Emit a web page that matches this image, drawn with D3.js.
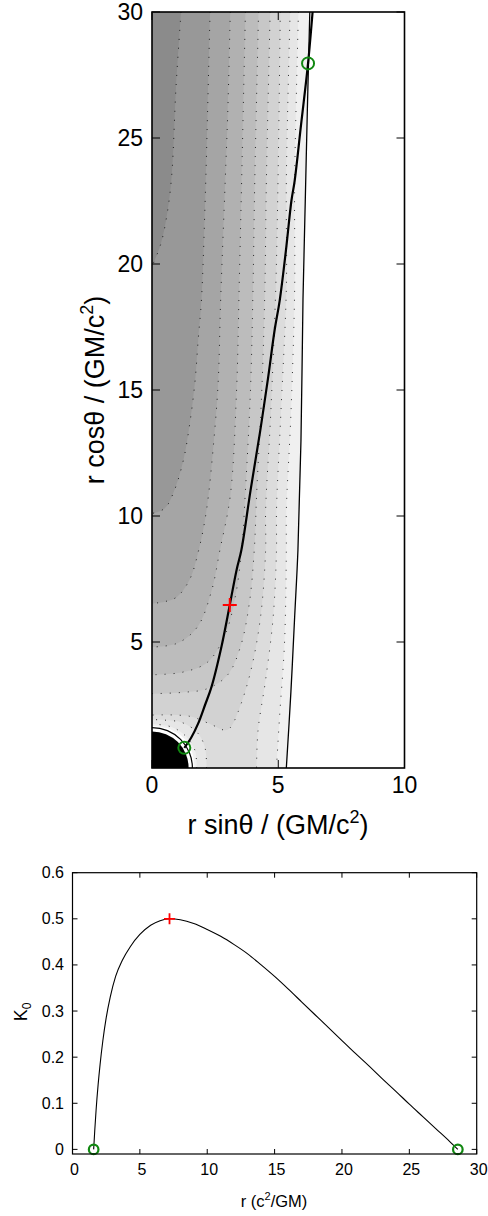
<!DOCTYPE html>
<html><head><meta charset="utf-8">
<script src="https://cdn.jsdelivr.net/npm/d3@7"></script>
<style>
body{margin:0;background:#fff}
svg{display:block}
text{font-family:"Liberation Sans",Arial,Helvetica,sans-serif;fill:#000}
</style>
</head><body>
<svg id="chart" width="488" height="1216"></svg>
<script>
// ---------------- DATA ----------------
// grey level of each band, darkest (upper left) to lightest
const bandColors = ["#8b8b8b","#989898","#a5a5a5","#b1b1b1","#bcbcbc","#c7c7c7","#d2d2d2","#dcdcdc","#e6e6e6","#f0f0f0","#ffffff"];
// contour lines, each a list of pieces [x, z] (lighter side on the left of travel)
const contour1 = [[[1.15,30],[0.95,27],[0.78,23.5],[0.6,22],[0.35,20.8],[0,19.9]]];
const contour2 = [[[2.3,30],[2.2,26],[2.12,23],[1.96,18.6],[1.83,17],[1.7,15.3],[1.5,13.7],[1.24,12.2],[0.84,10.9],[0.5,10.3],[0,10.1]]];
const contour3 = [[[3.1,30],[3.0,26],[2.9,23.3],[2.72,18.6],[2.62,15.3],[2.45,13],[2.16,10.24],[1.85,8.65],[1.5,7.5],[1.0,6.8],[0.5,6.6],[0,6.53]]];
const contour4 = [[[3.7,30],[3.55,23.3],[3.45,19],[3.35,15],[3.1,10.8],[2.69,8.65],[2.35,7],[1.8,5.6],[1.0,4.95],[0,4.8]]];
const contour5 = [[[4.22,30],[4.07,23.3],[4.0,19],[3.9,15],[3.7,11],[3.55,8.65],[3.3,6.8],[2.9,5.3],[2.2,4.2],[1.2,3.8],[0,3.7]]];
const contour6 = [[[4.68,30],[4.53,23.3],[4.47,19],[4.35,15],[4.15,11],[4.05,8.65],[3.85,6.5],[3.5,4.8],[3.0,3.7],[2.2,3.15],[1.2,3.0],[0,2.95]]];
const contour7 = [[[5.08,30],[4.99,23.3],[4.9,19],[4.7,14],[4.5,10.2],[4.5,8.65],[4.3,6],[3.9,3.8],[3.4,2.2],[3.1,1.6],[2.9,1.5],[2.4,1.7],[1.5,2.05],[0,2.1]]];
const contour8 = [[[5.47,30],[5.32,23.3],[5.32,19],[5.1,14],[4.93,10.2],[4.93,8.65],[4.8,6],[4.5,3.5],[4.2,1.5],[4.14,0]],
                  [[2.16,0],[2.1,0.8],[1.8,1.4],[1.2,1.8],[0.5,1.9],[0,1.92]]];
const contour9 = [[[5.8,30],[5.65,23.3],[5.65,19],[5.5,14],[5.32,10.2],[5.32,8.65],[5.25,5],[5.05,2],[4.93,0]],
                  [[1.77,0],[1.7,0.7],[1.35,1.25],[0.8,1.62],[0,1.75]]];
const contour10 = [[[1.68,0],[1.6,0.6],[1.3,1.15],[0.7,1.55],[0,1.66]]];
const contourLevels = [contour1,contour2,contour3,contour4,contour5,contour6,contour7,contour8,contour9,contour10];
// thin boundary line (white beyond)
const boundaryLine = [[5.32,0],[5.5,3],[5.65,6],[5.78,8.65],[5.9,13],[5.98,18.6],[6.07,22.5],[6.15,26],[6.25,30]];
// thick curve
const thickCurve = [[1.28,0.8],[1.55,1.2],[1.83,1.77],[2.1,2.5],[2.36,3.23],[2.75,4.81],[3.08,6.47],[3.35,7.86],[3.54,8.65],[3.9,11],[4.27,13.28],[4.6,15.5],[4.86,17.4],[5.06,18.57],[5.3,20.5],[5.52,22.5],[5.65,23.3],[5.9,25.5],[6.18,27.96],[6.36,30]];
const horizonRadius = 1.45;
const outerArcRadius = 1.6;
const topCircles = [[1.28,0.8],[6.18,27.96]];
const topCross = [[3.08,6.47]];
const topXTicks = [0,5,10];
const topYTicks = [5,10,15,20,25,30];

// bottom panel
const kR = [1.57,1.65,1.75,1.9,2.05,2.25,2.5,2.8,3.2,3.7,4.3,5.0,5.8,6.5,7.2,8,9,10,11,12,13,14,15,16,17,18,19,20,21,22,23,24,25,26,27,28,28.6];
const kV = [0,0.04,0.085,0.14,0.185,0.235,0.285,0.33,0.375,0.41,0.44,0.466,0.486,0.496,0.5,0.498,0.49,0.477,0.462,0.444,0.424,0.400,0.375,0.348,0.320,0.292,0.264,0.236,0.208,0.181,0.153,0.126,0.098,0.071,0.044,0.017,0];
const botCircles = [[1.57,0],[28.6,0]];
const botCross = [[7.2,0.5]];
const botXTicks = [0,5,10,15,20,25,30];
const botYTicks = [0,0.1,0.2,0.3,0.4,0.5,0.6];

// ---------------- DRAW ----------------
const svg = d3.select("#chart");
const T = {l:152,r:404.5,t:12,b:768};
const x1 = d3.scaleLinear().domain([0,10]).range([T.l,T.r]);
const y1 = d3.scaleLinear().domain([0,30]).range([T.b,T.t]);

svg.append("clipPath").attr("id","clipTop").append("rect")
  .attr("x",T.l).attr("y",T.t).attr("width",T.r-T.l).attr("height",T.b-T.t);
const gTop = svg.append("g").attr("clip-path","url(#clipTop)");

// perimeter parameter (counter-clockwise, starting at top-left corner)
function perim(p){
  const e=1e-6,[x,z]=p;
  if(x<=e) return 30-z;
  if(z<=e) return 30+x;
  if(x>=10-e) return 40+z;
  return 70+(10-x);
}
const cornerAt = {0:[0,30],30:[0,0],40:[10,0],70:[10,30]};
function closePiece(pts){
  const sE=perim(pts[pts.length-1]); let sS=perim(pts[0]);
  if(sS<=sE) sS+=80;
  const out=pts.slice();
  [0,30,40,70,80,110,120,150].forEach(c=>{ if(c>sE && c<sS) out.push(cornerAt[c%80]); });
  return out;
}
const smooth = d3.line().x(d=>x1(d[0])).y(d=>y1(d[1])).curve(d3.curveCatmullRom.alpha(0.5));

gTop.append("rect").attr("x",T.l).attr("y",T.t).attr("width",T.r-T.l).attr("height",T.b-T.t).attr("fill",bandColors[0]);
contourLevels.forEach((lev,i)=>{
  lev.forEach(piece=>{
    const closed = closePiece(piece);
    const extra = closed.slice(piece.length);
    let d = smooth(piece);
    extra.forEach(p=>{ d += "L"+x1(p[0])+","+y1(p[1]); });
    d += "Z";
    gTop.append("path").attr("d",d).attr("fill",bandColors[i+1]).attr("stroke","none");
  });
});
// dotted contour lines
contourLevels.forEach((lev,i)=>{
  if(i===contourLevels.length-1) return;
  lev.forEach(piece=>{
    gTop.append("path").attr("d",smooth(piece)).attr("fill","none")
      .attr("stroke","#000").attr("stroke-width",1).attr("stroke-dasharray","1 8").attr("opacity",0.8);
  });
});
// white region beyond thin line
{
  let d = smooth(boundaryLine) + "L"+x1(10)+","+y1(30)+"L"+x1(10)+","+y1(0)+"Z";
  gTop.append("path").attr("d",d).attr("fill","#fff");
  gTop.append("path").attr("d",smooth(boundaryLine)).attr("fill","none").attr("stroke","#000").attr("stroke-width",1.3);
}
// black hole and arc
const arcGen = d3.arc();
const o = `translate(${x1(0)},${y1(0)})`;
gTop.append("path").attr("transform",o)
  .attr("d",arcGen({innerRadius:0,outerRadius:x1(outerArcRadius)-x1(0)+1.5,startAngle:0,endAngle:Math.PI/2}))
  .attr("fill","#fff");
gTop.append("path").attr("transform",o)
  .attr("d",arcGen({innerRadius:x1(outerArcRadius)-x1(0)-0.6,outerRadius:x1(outerArcRadius)-x1(0)+0.6,startAngle:0,endAngle:Math.PI/2}))
  .attr("fill","#000");
gTop.append("path").attr("transform",o)
  .attr("d",arcGen({innerRadius:0,outerRadius:x1(horizonRadius)-x1(0),startAngle:0,endAngle:Math.PI/2}))
  .attr("fill","#000");
// thick curve
gTop.append("path").attr("d",smooth(thickCurve)).attr("fill","none").attr("stroke","#000").attr("stroke-width",2.2);
// markers
gTop.selectAll(".tc").data(topCircles).enter().append("circle")
  .attr("cx",d=>x1(d[0])).attr("cy",d=>y1(d[1])).attr("r",6).attr("fill","none").attr("stroke","#118811").attr("stroke-width",2);
topCross.forEach(d=>{
  const cx=x1(d[0]),cy=y1(d[1]);
  gTop.append("path").attr("d",`M${cx-7},${cy}H${cx+7}M${cx},${cy-7}V${cy+7}`).attr("stroke","#ff0000").attr("stroke-width",2);
});
// frame & ticks
svg.append("rect").attr("x",T.l).attr("y",T.t).attr("width",T.r-T.l).attr("height",T.b-T.t)
  .attr("fill","none").attr("stroke","#000").attr("stroke-width",1.6);
const tk=8;
topXTicks.forEach(v=>{
  const X=x1(v);
  svg.append("path").attr("d",`M${X},${T.b}v${-tk}M${X},${T.t}v${tk}`).attr("stroke","#000").attr("stroke-width",1);
  svg.append("text").attr("x",X).attr("y",793).attr("text-anchor","middle").attr("font-size",23).text(v);
});
topYTicks.forEach(v=>{
  const Y=y1(v);
  svg.append("path").attr("d",`M${T.l},${Y}h${tk}M${T.r},${Y}h${-tk}`).attr("stroke","#000").attr("stroke-width",1);
  svg.append("text").attr("x",143).attr("y",Y+8).attr("text-anchor","end").attr("font-size",23).text(v);
});
// axis titles
{
  const t=svg.append("text").attr("x",278).attr("y",834).attr("text-anchor","middle").attr("font-size",27);
  t.append("tspan").text("r sinθ / (GM/c");
  t.append("tspan").attr("font-size",18).attr("dy",-11).text("2");
  t.append("tspan").attr("dy",11).text(")");
  const t2=svg.append("text").attr("transform","translate(104,390) rotate(-90)").attr("text-anchor","middle").attr("font-size",27);
  t2.append("tspan").text("r cosθ / (GM/c");
  t2.append("tspan").attr("font-size",18).attr("dy",-11).text("2");
  t2.append("tspan").attr("dy",11).text(")");
}

// ---------------- bottom panel ----------------
const B = {l:72.5,r:476.7,t:872.7,b:1154};
const x2 = d3.scaleLinear().domain([0,30]).range([B.l,B.r]);
const y2 = d3.scaleLinear().domain([-0.01,0.6]).range([B.b,B.t]);
const kData = kR.map((r,i)=>[r,kV[i]]);
svg.append("path").attr("d",d3.line().x(d=>x2(d[0])).y(d=>y2(d[1])).curve(d3.curveMonotoneX)(kData))
  .attr("fill","none").attr("stroke","#000").attr("stroke-width",1.1);
svg.selectAll(".bc").data(botCircles).enter().append("circle")
  .attr("cx",d=>x2(d[0])).attr("cy",d=>y2(d[1])).attr("r",4.8).attr("fill","none").attr("stroke","#118811").attr("stroke-width",2.2);
botCross.forEach(d=>{
  const cx=x2(d[0]),cy=y2(d[1]);
  svg.append("path").attr("d",`M${cx-5.5},${cy}H${cx+5.5}M${cx},${cy-5.5}V${cy+5.5}`).attr("stroke","#ff0000").attr("stroke-width",1.8);
});
svg.append("rect").attr("x",B.l).attr("y",B.t).attr("width",B.r-B.l).attr("height",B.b-B.t)
  .attr("fill","none").attr("stroke","#000").attr("stroke-width",1.2);
const tk2=5;
botXTicks.forEach(v=>{
  const X=x2(v);
  svg.append("path").attr("d",`M${X},${B.b}v${-tk2}M${X},${B.t}v${tk2}`).attr("stroke","#000").attr("stroke-width",1);
  svg.append("text").attr("x",X+2).attr("y",1175).attr("text-anchor","middle").attr("font-size",16).text(v);
});
botYTicks.forEach(v=>{
  const Y=y2(v);
  svg.append("path").attr("d",`M${B.l},${Y}h${tk2}M${B.r},${Y}h${-tk2}`).attr("stroke","#000").attr("stroke-width",1);
  svg.append("text").attr("x",64).attr("y",Y+5.5).attr("text-anchor","end").attr("font-size",16).text(v);
});
{
  const t=svg.append("text").attr("x",274).attr("y",1207).attr("text-anchor","middle").attr("font-size",16.5);
  t.append("tspan").text("r (c");
  t.append("tspan").attr("font-size",11).attr("dy",-7).text("2");
  t.append("tspan").attr("dy",7).text("/GM)");
  const t2=svg.append("text").attr("transform","translate(27,1012) rotate(-90)").attr("text-anchor","middle").attr("font-size",18);
  t2.append("tspan").text("K");
  t2.append("tspan").attr("font-size",12).attr("dy",4).text("0");
}
</script>
</body></html>
